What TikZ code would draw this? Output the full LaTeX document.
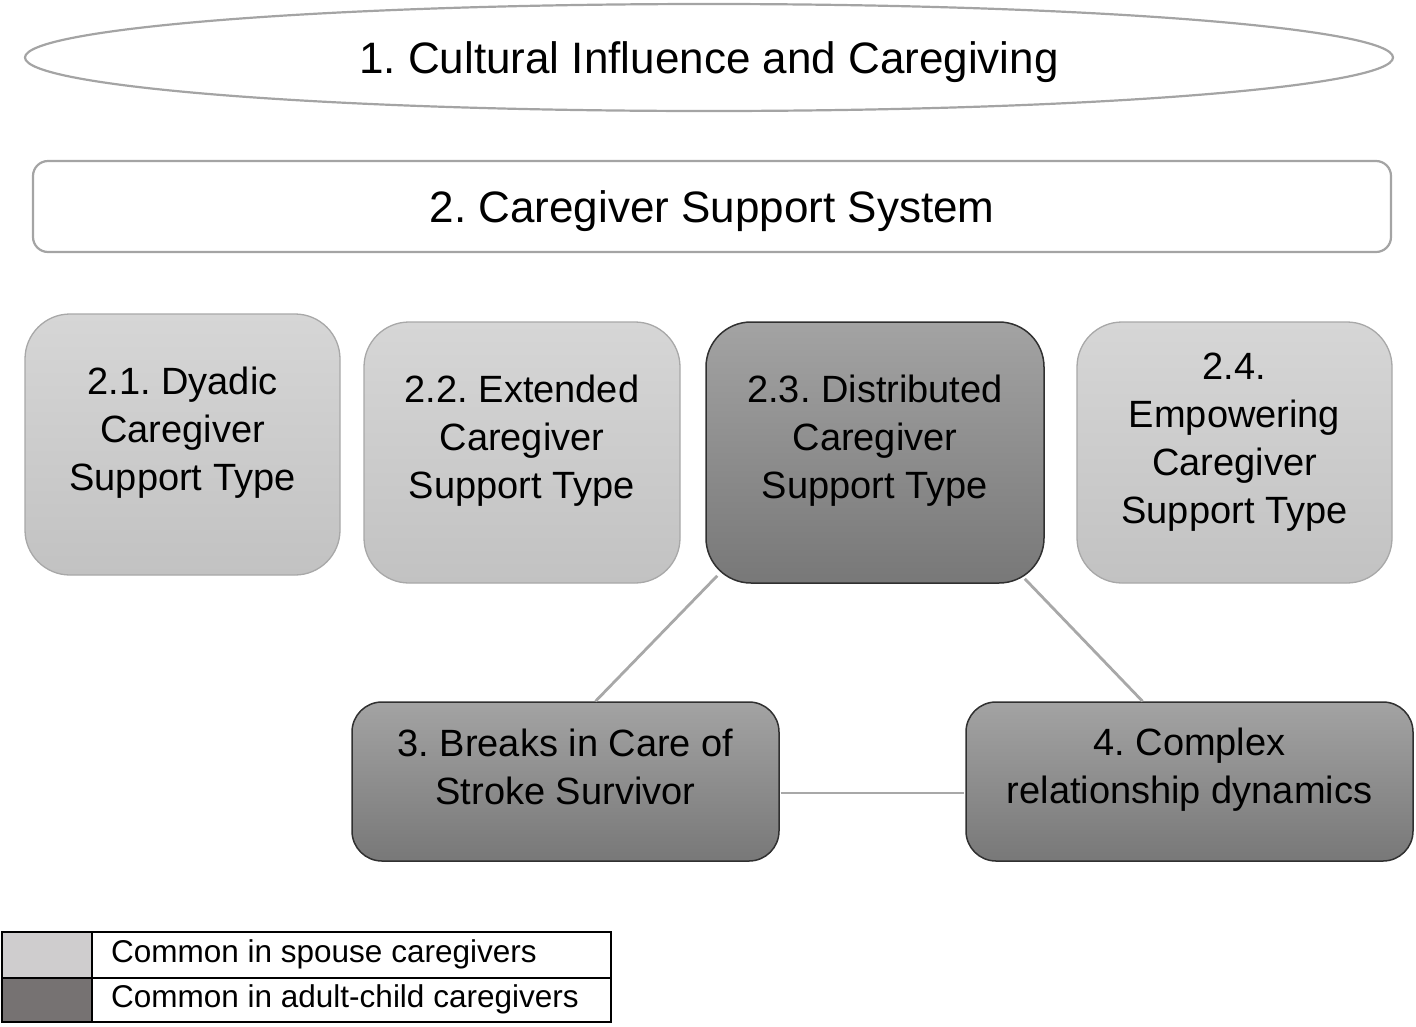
\documentclass[tikz,border=0pt]{standalone}
\usepackage{fontspec}
\setmainfont{Liberation Sans}
\usetikzlibrary{shapes.geometric,calc}
\frenchspacing
\definecolor{lgtop}{HTML}{D6D6D6}
\definecolor{lgbot}{HTML}{C2C2C2}
\definecolor{lgline}{HTML}{A8A8A8}
\definecolor{dktop}{HTML}{A3A3A3}
\definecolor{dkbot}{HTML}{787878}
\definecolor{dkline}{HTML}{303030}
\definecolor{outline}{HTML}{A4A4A4}
\definecolor{connc}{HTML}{A8A8A8}
\definecolor{swlight}{HTML}{CFCDCE}
\definecolor{swdark}{HTML}{767272}
\begin{document}
\begin{tikzpicture}[x=1pt,y=-1pt,
  lightbox/.style={draw=lgline, line width=1.3pt, rounded corners=45pt,
    top color=lgtop, bottom color=lgbot, inner sep=0pt},
  darkbox/.style={draw=dkline, line width=1.5pt, rounded corners=#1,
    top color=dktop, bottom color=dkbot, inner sep=0pt},
  darkbox/.default=45pt,
  boxtext/.style={align=center, font=\fontsize{38}{48}\selectfont, inner sep=0pt},
  bigtext/.style={font=\fontsize{44}{52}\selectfont, text depth=0pt},
  legtext/.style={anchor=west, font=\fontsize{31.5}{36}\selectfont, inner sep=0pt},
  conn/.style={draw=connc, line width=2.8pt},
  legcell/.style={draw=black, line width=1.3pt, inner sep=0pt}
]
\useasboundingbox (0,0) rectangle (1416,1026);

% top ellipse and system box
\node[ellipse, draw=outline, line width=2.2pt, fill=white, inner sep=0pt,
      minimum width=1368pt, minimum height=107pt, bigtext] (e1) at (709,57.5)
      {1. Cultural Influence and Caregiving};
\node[draw=outline, line width=2.2pt, rounded corners=15pt, fill=white,
      minimum width=1358pt, minimum height=91pt, bigtext] (b2) at (712,206.5)
      {2. Caregiver Support System};

% support type boxes
\node[lightbox, minimum width=315pt, minimum height=261pt] (b21) at (182.5,444.5) {};
\node[lightbox, minimum width=316pt, minimum height=261pt] (b22) at (522,452.5) {};
\node[darkbox, minimum width=338pt, minimum height=261pt] (b23) at (875,452.5) {};
\node[lightbox, minimum width=315pt, minimum height=261pt] (b24) at (1234.5,452.5) {};

\node[boxtext] (t21) at (182.5,433) {2.1. Dyadic\\Caregiver\\Support Type};
\node[boxtext] (t22) at (522,441) {2.2. Extended\\Caregiver\\Support Type};
\node[boxtext] (t23) at (875,441) {2.3. Distributed\\Caregiver\\Support Type};
\node[boxtext] (t24) at (1234.5,442.5) {2.4.\\Empowering\\Caregiver\\Support Type};

% lower boxes
\node[darkbox=30pt, minimum width=427pt, minimum height=159pt] (b3) at (565.5,781.5) {};
\node[darkbox=30pt, minimum width=447pt, minimum height=159pt] (b4) at (1189.5,781.5) {};
\node[boxtext] (t3) at (565.5,767) {3. Breaks in Care of\\Stroke Survivor};
\node[boxtext] (t4) at (1189.5,770) {4. Complex\\relationship dynamics};

% connectors
\draw[conn] ($(b23.south west)+(12,-8)$) -- ($(b3.north)+(30,0)$);
\draw[conn] ($(b23.south east)+(-20,-5)$) -- ($(b4.north)+(-47,0)$);
\draw[conn] ($(b3.east)+(0.8,11.5)$) -- ($(b4.west)+(-0.8,11.5)$);

% legend
\node[legcell, fill=swlight, minimum width=90pt, minimum height=46pt] (sw1) at (47,955) {};
\node[legcell, fill=swdark, minimum width=90pt, minimum height=44pt] (sw2) at (47,1000) {};
\node[legcell, fill=white, minimum width=519pt, minimum height=46pt] (c1) at (351.5,955) {};
\node[legcell, fill=white, minimum width=519pt, minimum height=44pt] (c2) at (351.5,1000) {};
\node[legtext] (l1) at (111,954) {Common in spouse caregivers};
\node[legtext] (l2) at (111,999) {Common in adult-child caregivers};
\end{tikzpicture}
\end{document}
